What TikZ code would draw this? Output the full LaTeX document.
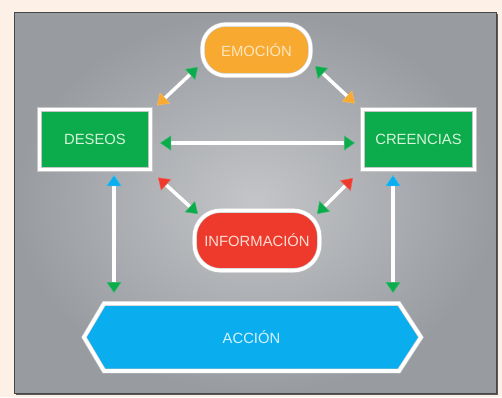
\documentclass[tikz,border=0pt]{standalone}
\usepackage{fontspec}
\setmainfont{Liberation Sans}
\usetikzlibrary{arrows.meta,shadows,calc}
\definecolor{peach}{HTML}{FDF0E6}
\definecolor{pdark}{HTML}{989BA0}
\definecolor{plight}{HTML}{C3C5C8}
\definecolor{cO}{HTML}{F8A930}
\definecolor{cG}{HTML}{0CAB4B}
\definecolor{cR}{HTML}{EE3A2D}
\definecolor{cB}{HTML}{0AAEEF}
\definecolor{tO}{HTML}{FDE6BE}
\definecolor{tG}{HTML}{D6F4DC}
\definecolor{tR}{HTML}{FFDCD2}
\definecolor{tB}{HTML}{D4F1FF}
\tikzset{
  otip/.tip={Triangle[width=15pt,length=11pt,fill=cO,color=cO!80!white,line width=.5pt]},
  gtip/.tip={Triangle[width=15pt,length=11pt,fill=cG,color=cG!80!white,line width=.5pt]},
  rtip/.tip={Triangle[width=15pt,length=11pt,fill=cR,color=cR!80!white,line width=.5pt]},
  btip/.tip={Triangle[width=15pt,length=11pt,fill=cB,color=cB!80!white,line width=.5pt]},
  arr/.style={draw=white, line width=3.5pt},
  frame/.style={draw=gray!45, double=white, double distance=3.6pt, line width=.6pt,
    drop shadow={shadow xshift=1.2pt, shadow yshift=-1.2pt, opacity=.3}},
  box/.style={frame, outer sep=0pt, inner sep=0pt,
    font=\fontsize{14.8}{16}\selectfont},
}
\begin{document}
\begin{tikzpicture}[x=1pt,y=-1pt]
\useasboundingbox (0,0) rectangle (502,397);
\fill[peach] (0,0) rectangle (502,397);
% panel
\fill[gray!70!black] (15.5,13.5) rectangle (498,395);
\shade[inner color=plight, outer color=pdark] (14,12) rectangle (496.5,393);
\draw[gray!55!black, line width=.8pt] (14,12) rectangle (496.5,393);

% nodes
\node[box, fill=cO, text=tO, rounded corners=23pt, minimum width=108pt, minimum height=51pt] (emo) at (256.5,50) {EMOCIÓN};
\node[box, fill=cG, text=tG, minimum width=111pt, minimum height=60pt] (des) at (95,139.5) {DESEOS};
\node[box, fill=cG, text=tG, minimum width=112pt, minimum height=60pt] (cre) at (418.5,139.5) {CREENCIAS};
\node[box, fill=cR, text=tR, rounded corners=26pt, minimum width=125pt, minimum height=60pt] (inf) at (257,240.5) {INFORMACIÓN};
\node[outer sep=0pt, inner sep=0pt, minimum width=295pt, minimum height=67.5pt] (acc) at (251.5,337.25) {};
\filldraw[frame, fill=cB] ([xshift=-20pt]acc.west) -- (acc.north west) -- (acc.north east)
  -- ([xshift=22pt]acc.east) -- (acc.south east) -- (acc.south west) -- cycle;
\node[text=tB, font=\fontsize{14.8}{16}\selectfont] at (acc.center) {ACCIÓN};

% connectors
\draw[arr, arrows={otip-gtip}] ([shift={(6.5,-4)}]des.north east) -- ([shift={(-4.5,-8.5)}]emo.south west);
\draw[arr, arrows={gtip-otip}] ([shift={(4.5,-9.5)}]emo.south east) -- ([shift={(-7.5,-6)}]cre.north west);
\draw[arr, arrows={gtip-gtip}] ([shift={(9.5,3.5)}]des.east) -- ([shift={(-7.5,3.5)}]cre.west);
\draw[arr, arrows={rtip-gtip}] ([shift={(7.5,8)}]des.south east) -- ([shift={(3.5,3.5)}]inf.north west);
\draw[arr, arrows={rtip-gtip}] ([shift={(-9.5,8.5)}]cre.south west) -- ([shift={(-2.5,3.5)}]inf.north east);
\draw[arr, arrows={btip-gtip}] ([shift={(19,5.5)}]des.south) -- ([shift={(-137.5,-10.5)}]acc.north);
\draw[arr, arrows={btip-gtip}] ([shift={(-25.5,5.5)}]cre.south) -- ([shift={(141.5,-10.5)}]acc.north);
\end{tikzpicture}
\end{document}
